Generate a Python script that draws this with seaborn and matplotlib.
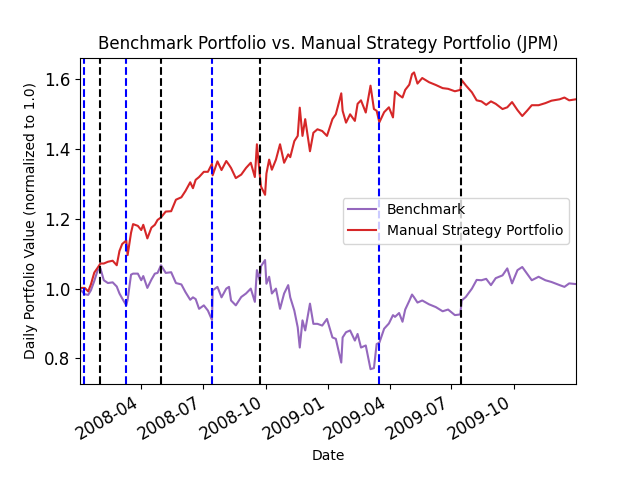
import matplotlib
matplotlib.use("Agg")
import matplotlib.pyplot as plt
import matplotlib.dates as mdates
import seaborn as sns
import pandas as pd

dates = [
    "2008-01-02", "2008-01-09", "2008-01-14", "2008-01-18", "2008-01-23", "2008-01-28",
    "2008-02-01", "2008-02-06", "2008-02-12", "2008-02-19", "2008-02-25", "2008-02-29",
    "2008-03-04", "2008-03-10", "2008-03-12", "2008-03-17", "2008-03-20", "2008-03-27",
    "2008-04-01", "2008-04-04", "2008-04-10", "2008-04-16", "2008-04-21", "2008-04-25",
    "2008-04-30", "2008-05-07", "2008-05-15", "2008-05-22", "2008-05-30", "2008-06-05",
    "2008-06-12", "2008-06-16", "2008-06-20", "2008-06-25", "2008-07-02", "2008-07-08",
    "2008-07-14", "2008-07-15", "2008-07-22", "2008-07-28", "2008-08-04", "2008-08-08",
    "2008-08-11", "2008-08-18", "2008-08-26", "2008-09-02", "2008-09-09", "2008-09-15",
    "2008-09-18", "2008-09-22", "2008-09-24", "2008-09-30", "2008-10-02", "2008-10-06",
    "2008-10-10", "2008-10-16", "2008-10-22", "2008-10-28", "2008-11-03", "2008-11-06",
    "2008-11-12", "2008-11-17", "2008-11-20", "2008-11-24", "2008-11-28", "2008-12-05",
    "2008-12-10", "2008-12-16", "2008-12-23", "2008-12-30", "2009-01-07", "2009-01-12",
    "2009-01-20", "2009-01-22", "2009-01-27", "2009-02-02", "2009-02-09", "2009-02-13",
    "2009-02-18", "2009-02-25", "2009-03-04", "2009-03-09", "2009-03-13", "2009-03-17",
    "2009-03-24", "2009-03-31", "2009-04-06", "2009-04-09", "2009-04-15", "2009-04-20",
    "2009-04-24", "2009-04-30", "2009-05-04", "2009-05-07", "2009-05-12", "2009-05-19",
    "2009-05-29", "2009-06-08", "2009-06-18", "2009-06-26", "2009-07-06", "2009-07-14",
    "2009-07-16", "2009-07-22", "2009-07-31", "2009-08-07", "2009-08-14", "2009-08-21",
    "2009-08-28", "2009-09-04", "2009-09-14", "2009-09-21", "2009-09-28", "2009-10-06",
    "2009-10-13", "2009-10-20", "2009-10-27", "2009-11-06", "2009-11-16", "2009-11-25",
    "2009-12-07", "2009-12-14", "2009-12-21", "2009-12-31",
]

benchmark = [
    0.998, 0.984, 0.982, 0.995, 1.022, 1.053,
    1.058, 1.024, 1.016, 1.018, 1.006, 0.986,
    0.972, 0.952, 0.968, 1.040, 1.043, 1.043,
    1.024, 1.036, 1.002, 1.026, 1.043, 1.045,
    1.067, 1.045, 1.047, 1.016, 1.012, 0.990,
    0.968, 0.975, 0.970, 0.942, 0.952, 0.937,
    0.910, 0.995, 1.005, 0.975, 1.000, 1.005,
    0.966, 0.952, 0.976, 0.986, 1.000, 0.962,
    1.053, 1.024, 1.064, 1.082, 1.014, 1.034,
    0.986, 1.000, 0.942, 0.986, 1.010, 0.975,
    0.937, 0.889, 0.831, 0.909, 0.880, 0.957,
    0.899, 0.899, 0.894, 0.913, 0.860, 0.856,
    0.788, 0.860, 0.875, 0.880, 0.851, 0.870,
    0.831, 0.837, 0.769, 0.772, 0.841, 0.845,
    0.885, 0.900, 0.924, 0.919, 0.930, 0.905,
    0.940, 0.965, 0.983, 0.975, 0.960, 0.966,
    0.955, 0.947, 0.935, 0.940, 0.924, 0.926,
    0.966, 0.976, 1.000, 1.025, 1.024, 1.028,
    1.010, 1.030, 1.038, 1.058, 1.015, 1.053,
    1.062, 1.043, 1.024, 1.034, 1.024, 1.019,
    1.010, 1.005, 1.015, 1.013,
]

manual = [
    1.002, 1.002, 0.992, 1.012, 1.046, 1.060,
    1.072, 1.072, 1.077, 1.080, 1.067, 1.108,
    1.128, 1.138, 1.096, 1.160, 1.185, 1.180,
    1.168, 1.183, 1.144, 1.175, 1.183, 1.197,
    1.204, 1.221, 1.222, 1.255, 1.262, 1.280,
    1.305, 1.288, 1.312, 1.320, 1.335, 1.335,
    1.358, 1.325, 1.365, 1.340, 1.366, 1.355,
    1.346, 1.317, 1.327, 1.346, 1.361, 1.320,
    1.414, 1.330, 1.293, 1.269, 1.330, 1.370,
    1.341, 1.370, 1.414, 1.361, 1.385, 1.377,
    1.423, 1.438, 1.519, 1.438, 1.486, 1.394,
    1.447, 1.457, 1.452, 1.438, 1.486, 1.500,
    1.560, 1.510, 1.476, 1.500, 1.481, 1.530,
    1.540, 1.505, 1.582, 1.515, 1.510, 1.477,
    1.506, 1.520, 1.491, 1.565, 1.555, 1.548,
    1.570, 1.585, 1.615, 1.620, 1.588, 1.604,
    1.592, 1.584, 1.575, 1.573, 1.566, 1.570,
    1.598, 1.583, 1.563, 1.540, 1.537, 1.527,
    1.537, 1.530, 1.515, 1.520, 1.535, 1.512,
    1.495, 1.510, 1.526, 1.526, 1.532, 1.539,
    1.543, 1.548, 1.540, 1.543,
]

long_entries = ["2008-01-08", "2008-03-10", "2008-07-14", "2009-03-16"]
short_entries = ["2008-02-01", "2008-04-30", "2008-09-22", "2009-07-15"]

df = pd.DataFrame({
    "Date": pd.to_datetime(dates),
    "Benchmark": benchmark,
    "Manual Strategy Portfolio": manual,
})

fig, ax = plt.subplots(figsize=(6.4, 4.8), dpi=100)
sns.lineplot(data=df, x="Date", y="Benchmark", color="tab:purple", label="Benchmark", ax=ax)
sns.lineplot(data=df, x="Date", y="Manual Strategy Portfolio", color="tab:red",
             label="Manual Strategy Portfolio", ax=ax)

for d in long_entries:
    ax.axvline(pd.Timestamp(d), color="blue", linestyle="--", linewidth=1.5)
for d in short_entries:
    ax.axvline(pd.Timestamp(d), color="black", linestyle="--", linewidth=1.5)

ax.set_xlim(df["Date"].iloc[0], df["Date"].iloc[-1])
ax.xaxis.set_major_locator(mdates.MonthLocator(bymonth=[1, 4, 7, 10]))
ax.xaxis.set_major_formatter(mdates.DateFormatter("%Y-%m"))
ax.tick_params(axis="both", labelsize=12)
ax.set_title("Benchmark Portfolio vs. Manual Strategy Portfolio (JPM)")
ax.set_xlabel("Date")
ax.set_ylabel("Daily Portfolio Value (normalized to 1.0)")
ax.legend(loc="center right")
fig.autofmt_xdate()
fig.savefig("out.png", dpi=100)
